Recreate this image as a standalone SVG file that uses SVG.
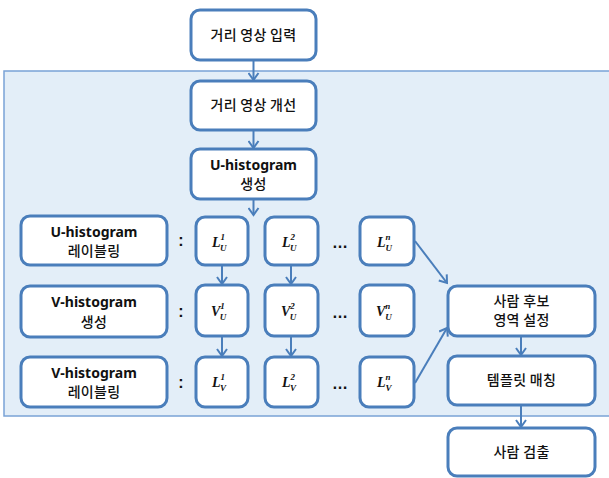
<svg xmlns="http://www.w3.org/2000/svg" width="609" height="478" viewBox="0 0 609 478">
<defs>
<marker id="ah" markerWidth="12" markerHeight="12" refX="9" refY="6" orient="auto" markerUnits="userSpaceOnUse">
<path d="M2,1 L9,6 L2,11" fill="none" stroke="#4a7ebb" stroke-width="2"/>
</marker>
</defs>
<style>
.box{fill:#fff;stroke:#4a7ebb;stroke-width:3}
.kt{font-family:"Noto Sans CJK KR","Noto Sans",sans-serif;font-size:14px;font-weight:500;fill:#111;text-anchor:middle;letter-spacing:0.3px}
.bt{font-family:"Noto Sans","Noto Sans CJK KR",sans-serif;font-size:14px;font-weight:bold;fill:#111;text-anchor:middle}
.mt{font-family:"Liberation Serif",serif;font-style:italic;font-weight:bold;fill:#111}
.c{stroke:#4a7ebb;stroke-width:2;fill:none;marker-end:url(#ah)}
.dots{font-family:"Liberation Sans",sans-serif;font-size:16px;font-weight:bold;fill:#111;text-anchor:middle}
</style>
<rect x="4" y="71" width="606" height="345" fill="#e3eef8" stroke="#7aa3d6" stroke-width="1.5"/>
<g id="connectors">
<line class="c" x1="253.5" y1="61" x2="253.5" y2="80"/>
<line class="c" x1="253.5" y1="131" x2="253.5" y2="148"/>
<line class="c" x1="253.5" y1="200" x2="253.5" y2="215"/>
<line class="c" x1="222" y1="266" x2="222" y2="284"/>
<line class="c" x1="222" y1="337" x2="222" y2="356"/>
<line class="c" x1="291" y1="266" x2="291" y2="284"/>
<line class="c" x1="291" y1="337" x2="291" y2="356"/>
<line class="c" x1="415" y1="241" x2="447" y2="283"/>
<line class="c" x1="415" y1="383" x2="447" y2="328"/>
<line class="c" x1="521" y1="337" x2="521" y2="355"/>
<line class="c" x1="521" y1="406" x2="521" y2="427"/>
</g>
<g id="n_input"><rect class="box" x="191" y="10" width="125" height="50" rx="9"/><text class="kt" x="253.5" y="40">거리 영상 입력</text></g>
<g id="n_improve"><rect class="box" x="191" y="81" width="125" height="49" rx="9"/><text class="kt" x="253.5" y="110">거리 영상 개선</text></g>
<g id="n_uhist"><rect class="box" x="191" y="149" width="125" height="50" rx="9"/><text class="bt" x="253.5" y="170">U-histogram</text><text class="kt" x="253.5" y="189">생성</text></g>
<g id="n_ulabel"><rect class="box" x="21" y="216" width="146" height="49" rx="9"/><text class="bt" x="94" y="237">U-histogram</text><text class="kt" x="94" y="256">레이블링</text></g>
<g id="n_vhist"><rect class="box" x="21" y="286" width="146" height="51" rx="9"/><text class="bt" x="94" y="307">V-histogram</text><text class="kt" x="94" y="327">생성</text></g>
<g id="n_vlabel"><rect class="box" x="21" y="357" width="146" height="50" rx="9"/><text class="bt" x="94" y="378">V-histogram</text><text class="kt" x="94" y="397">레이블링</text></g>
<g id="colons" font-family="Liberation Sans, sans-serif" font-size="16" font-weight="bold" fill="#111" text-anchor="middle">
<text x="181" y="246">:</text><text x="181" y="317">:</text><text x="181" y="388">:</text>
</g>
<g id="n_lu1"><rect class="box" x="196" y="217" width="52" height="48" rx="9"/><text class="mt" x="212" y="247" font-size="14">L<tspan font-size="9" dy="-7">1</tspan><tspan font-size="9" dx="-5" dy="11">U</tspan></text></g>
<g id="n_lu2"><rect class="box" x="265" y="217" width="53" height="48" rx="9"/><text class="mt" x="282" y="247" font-size="14">L<tspan font-size="9" dy="-7">2</tspan><tspan font-size="9" dx="-5" dy="11">U</tspan></text></g>
<g id="n_lun"><rect class="box" x="360" y="217" width="54" height="48" rx="9"/><text class="mt" x="377" y="247" font-size="14">L<tspan font-size="9" dy="-7">n</tspan><tspan font-size="9" dx="-5" dy="11">U</tspan></text></g>
<g id="n_vu1"><rect class="box" x="196" y="285" width="52" height="51" rx="9"/><text class="mt" x="211" y="316" font-size="14">V<tspan font-size="9" dy="-7">1</tspan><tspan font-size="9" dx="-5" dy="11">U</tspan></text></g>
<g id="n_vu2"><rect class="box" x="265" y="285" width="53" height="51" rx="9"/><text class="mt" x="281" y="316" font-size="14">V<tspan font-size="9" dy="-7">2</tspan><tspan font-size="9" dx="-5" dy="11">U</tspan></text></g>
<g id="n_vun"><rect class="box" x="360" y="285" width="54" height="51" rx="9"/><text class="mt" x="376" y="316" font-size="14">V<tspan font-size="9" dy="-7">n</tspan><tspan font-size="9" dx="-5" dy="11">U</tspan></text></g>
<g id="n_lv1"><rect class="box" x="196" y="357" width="52" height="50" rx="9"/><text class="mt" x="212" y="387" font-size="14">L<tspan font-size="9" dy="-7">1</tspan><tspan font-size="9" dx="-5" dy="11">V</tspan></text></g>
<g id="n_lv2"><rect class="box" x="265" y="357" width="53" height="50" rx="9"/><text class="mt" x="282" y="387" font-size="14">L<tspan font-size="9" dy="-7">2</tspan><tspan font-size="9" dx="-5" dy="11">V</tspan></text></g>
<g id="n_lvn"><rect class="box" x="360" y="357" width="54" height="50" rx="9"/><text class="mt" x="377" y="387" font-size="14">L<tspan font-size="9" dy="-7">n</tspan><tspan font-size="9" dx="-5" dy="11">V</tspan></text></g>
<g id="ellipses">
<text class="dots" x="340" y="248">…</text><text class="dots" x="340" y="318">…</text><text class="dots" x="340" y="389">…</text>
</g>
<g id="n_candidate"><rect class="box" x="448" y="286" width="147" height="50" rx="9"/><text class="kt" x="521.5" y="306">사람 후보</text><text class="kt" x="521.5" y="325">영역 설정</text></g>
<g id="n_template"><rect class="box" x="448" y="356" width="147" height="49" rx="9"/><text class="kt" x="521.5" y="385">템플릿 매칭</text></g>
<g id="n_detect"><rect class="box" x="448" y="428" width="147" height="48" rx="9"/><text class="kt" x="521.5" y="457">사람 검출</text></g>
</svg>
